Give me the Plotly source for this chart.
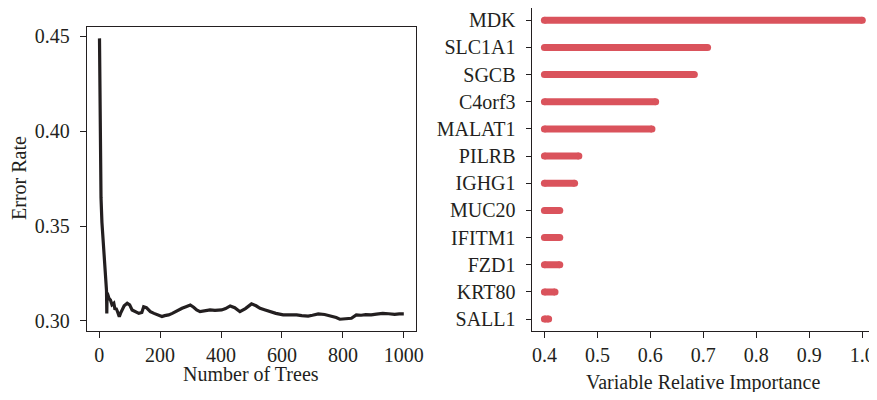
import plotly.graph_objects as go

# ---- Left panel: OOB error rate vs number of trees ----
trees = [1, 2, 4, 6, 9, 12, 15, 18, 21, 24, 25, 26, 28, 32, 37, 42, 48, 52, 55, 60, 66, 70,
         75, 82, 92, 100, 108, 118, 130, 140, 146, 155, 168, 180, 190, 198, 206, 215, 228,
         240, 250, 260, 272, 285, 299, 310, 320, 331, 345, 364, 380, 402, 415, 430, 445,
         462, 480, 500, 515, 528, 545, 560, 580, 604, 625, 648, 665, 686, 700, 719, 740,
         762, 778, 790, 810, 828, 844, 860, 875, 893, 910, 931, 950, 970, 985, 1000]
error_rate = [0.449, 0.420, 0.372, 0.365, 0.352, 0.345, 0.340, 0.334, 0.328, 0.316, 0.304,
              0.3148, 0.314, 0.312, 0.311, 0.3085, 0.3093, 0.306, 0.3068, 0.305, 0.3023,
              0.304, 0.3058, 0.308, 0.3093, 0.3085, 0.3058, 0.305, 0.304, 0.3045, 0.3075,
              0.307, 0.3049, 0.304, 0.3032, 0.3025, 0.3023, 0.3028, 0.3032, 0.304, 0.3049,
              0.3058, 0.3067, 0.3075, 0.3084, 0.3072, 0.3058, 0.3049, 0.3052, 0.3058, 0.3056,
              0.3058, 0.3065, 0.3079, 0.307, 0.3049, 0.3065, 0.309, 0.308, 0.3067, 0.3058,
              0.3049, 0.304, 0.3032, 0.3034, 0.3032, 0.3028, 0.3026, 0.3030, 0.3037, 0.3034,
              0.3026, 0.3018, 0.3009, 0.3012, 0.3014, 0.3032, 0.3030, 0.3033, 0.3032, 0.3036,
              0.304, 0.3038, 0.3035, 0.3037, 0.3037]

# ---- Right panel: variable relative importance ----
genes = ["MDK", "SLC1A1", "SGCB", "C4orf3", "MALAT1", "PILRB", "IGHG1",
         "MUC20", "IFITM1", "FZD1", "KRT80", "SALL1"]
importance = [1.0, 0.708, 0.683, 0.610, 0.603, 0.465, 0.457, 0.429, 0.429, 0.429, 0.420, 0.408]
imp_base = 0.4
x_ticks_right = [0.4, 0.5, 0.6, 0.7, 0.8, 0.9, 1.0]
x_ticks_left = [0, 200, 400, 600, 800, 1000]
y_ticks_left = [0.30, 0.35, 0.40, 0.45]

OFF = 8  # page body margin
W, H = 877 - OFF, 400 - 2 * OFF
FONT = "Liberation Serif"
FS = 20
TXT = "#231F20"
RED = "#DA535C"


def fx(px):
    return (px - OFF) / W


def fy(py):
    return 1 - (py - OFF) / H


fig = go.Figure()

fig.add_trace(go.Scatter(x=trees, y=error_rate, mode="lines",
                         line=dict(color=TXT, width=3.2), xaxis="x", yaxis="y",
                         showlegend=False, hoverinfo="skip"))

n = len(genes)
ypos = [n - i for i in range(n)]
bx, by = [], []
for g_y, v in zip(ypos, importance):
    bx += [imp_base, v, None]
    by += [g_y, g_y, None]
fig.add_trace(go.Scatter(x=bx, y=by, mode="lines+markers",
                         line=dict(color=RED, width=7),
                         marker=dict(color=RED, size=7, line=dict(width=0)),
                         xaxis="x2", yaxis="y2", showlegend=False, hoverinfo="skip"))

axis_common = dict(showline=True, mirror=True, linecolor=TXT, linewidth=1.3,
                   ticks="outside", tickwidth=1.2, tickcolor=TXT,
                   showgrid=False, zeroline=False, automargin=False,
                   tickfont=dict(family=FONT, size=FS, color=TXT))

fig.update_layout(
    width=W, height=H,
    margin=dict(l=0, r=0, t=0, b=0, autoexpand=False),
    paper_bgcolor="white", plot_bgcolor="white",
    xaxis=dict(domain=[fx(87), fx(416)], range=[-40, 1040], ticklen=6,
               tickvals=x_ticks_left, anchor="y", **axis_common),
    yaxis=dict(domain=[fy(331), fy(27)], range=[0.2947, 0.455], ticklen=6,
               tickvals=y_ticks_left, ticktext=["0.30", "0.35", "0.40", "0.45"],
               anchor="x", ticklabelstandoff=6, **axis_common),
    xaxis2=dict(domain=[fx(531.7), fx(875)], range=[0.376, 1.024], ticklen=6,
                tickvals=x_ticks_right, ticktext=["0.4", "0.5", "0.6", "0.7", "0.8", "0.9", "1.0"],
                anchor="y2", **axis_common),
    yaxis2=dict(domain=[fy(331), fy(8.3)], range=[0.56, n + 0.44],
                tickvals=ypos, ticktext=genes, anchor="x2", ticklen=5,
                ticklabelstandoff=6, **axis_common),
    annotations=[
        dict(text="Number of Trees", x=fx((98.7 + 404) / 2), y=fy(374),
             xref="paper", yref="paper", showarrow=False,
             font=dict(family=FONT, size=FS, color=TXT), xanchor="center", yanchor="middle"),
        dict(text="Error Rate", x=fx(19), y=fy(178), textangle=-90,
             xref="paper", yref="paper", showarrow=False,
             font=dict(family=FONT, size=FS, color=TXT), xanchor="center", yanchor="middle"),
        dict(text="Variable Relative Importance", x=fx((544 + 862.7) / 2), y=fy(382),
             xref="paper", yref="paper", showarrow=False,
             font=dict(family=FONT, size=FS, color=TXT), xanchor="center", yanchor="middle"),
    ],
)

fig.write_html("out.html")
